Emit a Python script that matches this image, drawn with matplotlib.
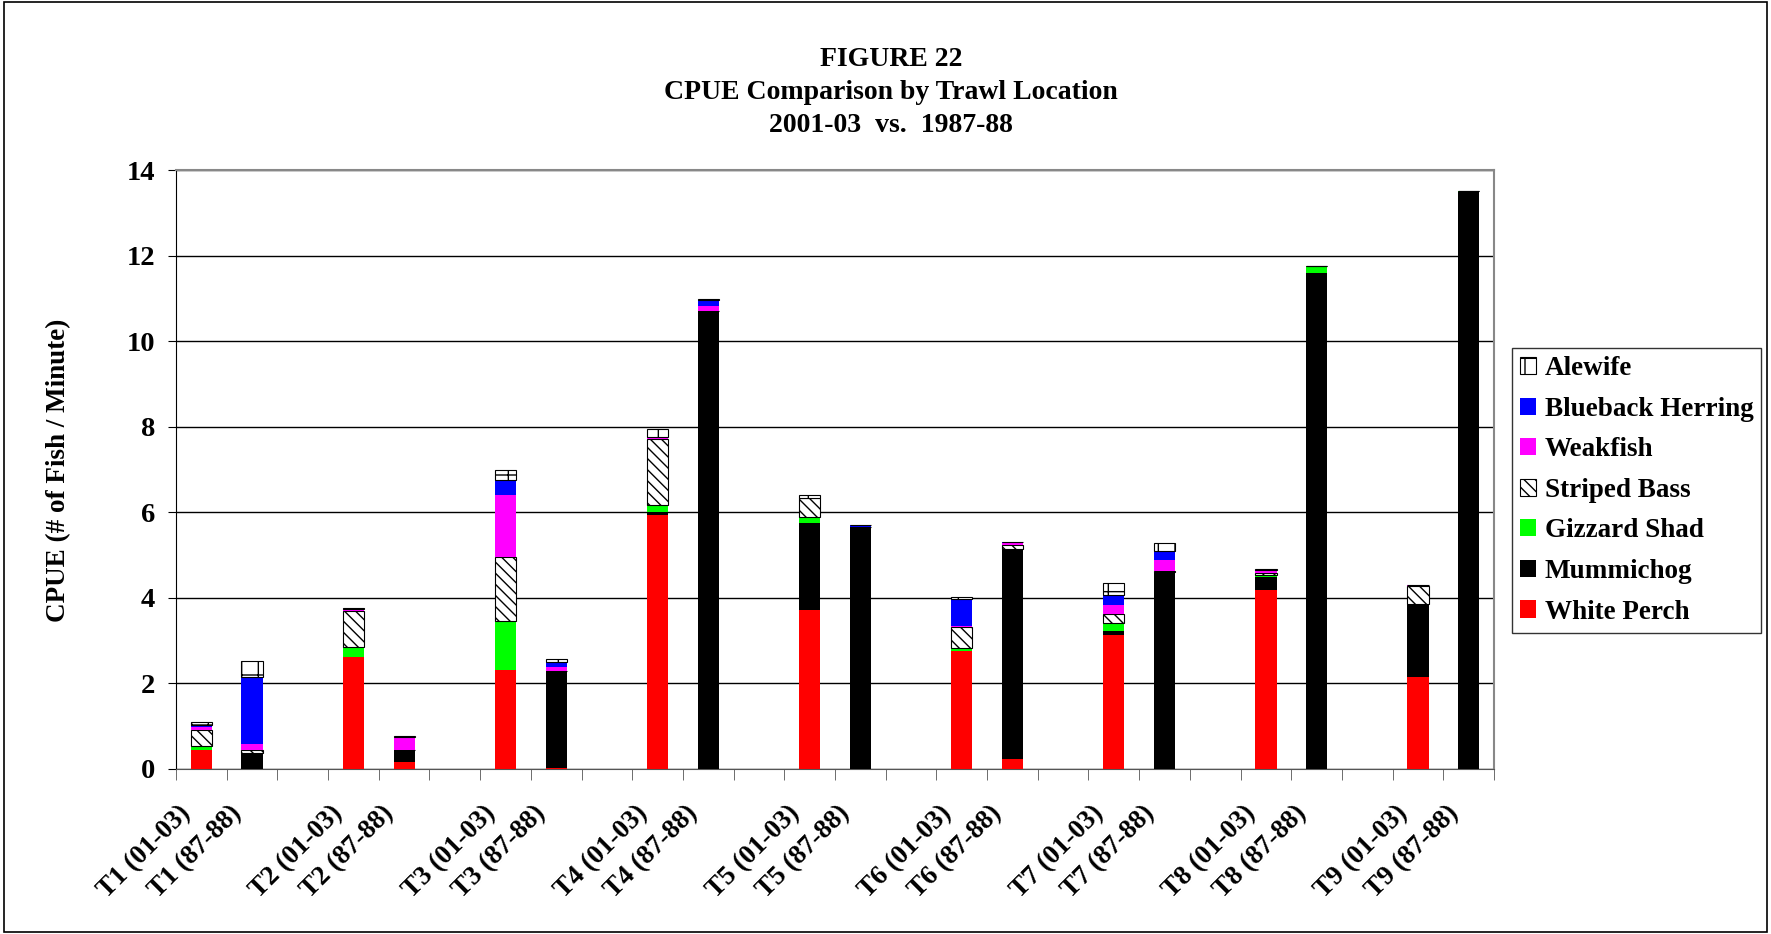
import matplotlib
matplotlib.use("Agg")
import matplotlib.pyplot as plt
import matplotlib.transforms as mtransforms
import numpy as np

# categories: each trawl location, 2001-03 and 1987-88
labels = ["T1 (01-03)", "T1 (87-88)", "T2 (01-03)", "T2 (87-88)",
          "T3 (01-03)", "T3 (87-88)", "T4 (01-03)", "T4 (87-88)",
          "T5 (01-03)", "T5 (87-88)", "T6 (01-03)", "T6 (87-88)",
          "T7 (01-03)", "T7 (87-88)", "T8 (01-03)", "T8 (87-88)",
          "T9 (01-03)", "T9 (87-88)"]

# CPUE by species (stacked bottom -> top)
white_perch = [0.44, 0.00, 2.61, 0.16, 2.32, 0.03, 5.94, 0.00, 3.71, 0.00,
               2.77, 0.23, 3.14, 0.00, 4.19, 0.00, 2.15, 0.00]
mummichog   = [0.00, 0.38, 0.00, 0.28, 0.00, 2.26, 0.06, 10.71, 2.04, 5.66,
               0.00, 4.92, 0.09, 4.60, 0.30, 11.61, 1.70, 13.50]
gizzard     = [0.10, 0.00, 0.24, 0.00, 1.14, 0.00, 0.17, 0.00, 0.14, 0.01,
               0.07, 0.00, 0.18, 0.00, 0.05, 0.15, 0.00, 0.02]
striped     = [0.38, 0.06, 0.84, 0.00, 1.50, 0.00, 1.55, 0.00, 0.45, 0.00,
               0.49, 0.10, 0.21, 0.02, 0.04, 0.00, 0.43, 0.00]
weakfish    = [0.05, 0.14, 0.06, 0.31, 1.44, 0.10, 0.02, 0.11, 0.00, 0.00,
               0.02, 0.04, 0.21, 0.26, 0.06, 0.00, 0.02, 0.00]
blueback    = [0.05, 1.56, 0.00, 0.00, 0.36, 0.12, 0.02, 0.14, 0.00, 0.03,
               0.63, 0.03, 0.23, 0.22, 0.01, 0.00, 0.00, 0.00]
alewife     = [0.09, 0.39, 0.02, 0.02, 0.24, 0.06, 0.19, 0.03, 0.06, 0.00,
               0.04, 0.00, 0.29, 0.18, 0.02, 0.00, 0.00, 0.00]

species = ["White Perch", "Mummichog", "Gizzard Shad", "Striped Bass",
           "Weakfish", "Blueback Herring", "Alewife"]
series = [white_perch, mummichog, gizzard, striped, weakfish, blueback, alewife]
colors = ["#ff0000", "#000000", "#00ff00", "white", "#ff00ff", "#0000ff", "white"]
hatches = [None, None, None, "\\\\\\", None, None, "+"]

plt.rcParams["font.family"] = ["Liberation Serif", "DejaVu Serif"]
plt.rcParams["font.weight"] = "bold"
plt.rcParams["hatch.linewidth"] = 1.0

fig = plt.figure(figsize=(17.71, 9.34), dpi=100)
ax = fig.add_axes([0.0994, 0.1767, 0.7442, 0.6408])

# 26 slots: two bars per site, one blank slot between sites
x = np.array([3 * (i // 2) + (i % 2) for i in range(len(labels))])
n_slots = 3 * 9 - 1
bottom = np.zeros(len(labels))
handles = []
for name, vals, c, h in zip(species, series, colors, hatches):
    vals = np.array(vals)
    ec = "black" if h else c
    b = ax.bar(x, vals, width=0.42, bottom=bottom, color=c, hatch=h,
               edgecolor=ec, linewidth=0.8 if h else 0, label=name, zorder=3)
    handles.append(b)
    bottom += vals

ax.set_xlim(-0.5, n_slots - 0.5)
ax.set_ylim(0, 14)
ax.set_yticks(range(0, 15, 2))
ax.yaxis.grid(True, color="black", linewidth=1.0, zorder=0)
ax.tick_params(axis="y", labelsize=20.5, direction="out", length=6, pad=9)
for lab in ax.get_yticklabels():
    lab.set_fontweight("bold")

ax.set_xticks(x)
ax.set_xticklabels(labels, rotation=45, ha="right", rotation_mode="anchor",
                   fontsize=19.5, fontweight="bold")
ax.tick_params(axis="x", length=0, pad=23)
shift = mtransforms.ScaledTranslation(-0.23, 0, fig.dpi_scale_trans)
for lab in ax.get_xticklabels():
    lab.set_transform(lab.get_transform() + shift)
ax.set_xticks(np.arange(-0.5, n_slots, 1), minor=True)
ax.tick_params(axis="x", which="minor", length=8, direction="out", color="#555555")

for s in ["top", "right"]:
    ax.spines[s].set_color("#888888")
    ax.spines[s].set_linewidth(1.5)
ax.spines["bottom"].set_color("#555555")
ax.spines["left"].set_color("black")

fig.text(0.0332, 0.4968, "CPUE (# of Fish / Minute)", rotation=90,
         ha="center", va="center", fontsize=19.5, fontweight="bold")

fig.text(0.503, 0.9009, "FIGURE 22\nCPUE Comparison by Trawl Location\n2001-03  vs.  1987-88",
         ha="center", va="center", fontsize=20, fontweight="bold", linespacing=1.4)

leg = fig.legend(handles[::-1], species[::-1], loc="upper left",
                 bbox_to_anchor=(0.8538, 0.6274), frameon=True, fancybox=False,
                 prop={"weight": "bold", "size": 19.5},
                 handlelength=0.6, handleheight=0.6, handletextpad=0.3,
                 labelspacing=0.575, borderpad=0.3, borderaxespad=0)
leg.get_frame().set_edgecolor("black")
leg.get_frame().set_linewidth(1.0)

# outer frame
fig.patches.append(plt.Rectangle((0.002, 0.002), 0.996, 0.996, transform=fig.transFigure,
                                 fill=False, edgecolor="black", linewidth=1.2))

fig.savefig("out.png", dpi=100)
